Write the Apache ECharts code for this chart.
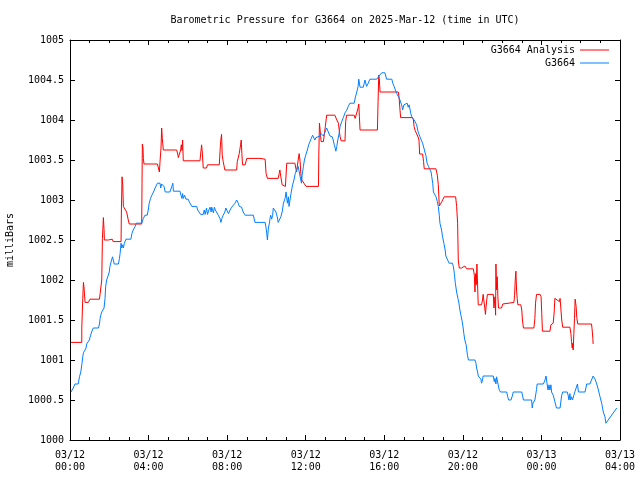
<!DOCTYPE html>
<html>
<head>
<meta charset="utf-8">
<script src="https://cdn.jsdelivr.net/npm/echarts@6/dist/echarts.min.js"></script>
<style>html,body{margin:0;padding:0;background:#fff}#chart{width:640px;height:480px}</style>
</head>
<body>
<div id="chart"></div>
<script>
// x values: minutes since 2025-03-12 00:00 UTC; y values: milliBars
var titleText = 'Barometric Pressure for G3664 on 2025-Mar-12 (time in UTC)';
var yAxisName = 'milliBars';
var seriesNames = ['G3664 Analysis', 'G3664'];
var xMin = 0, xMax = 1680, xStep = 240;
var yMin = 1000, yMax = 1005, yStep = 0.5;
var tickDates = ['03/12', '03/12', '03/12', '03/12', '03/12', '03/12', '03/13', '03/13'];
var tickTimes = ['00:00', '04:00', '08:00', '12:00', '16:00', '20:00', '00:00', '04:00'];

var analysisData = [[3,1001.22],[36,1001.22],[36,1001.40],[39,1001.77],[41,1001.97],[43,1001.90],[46,1001.72],[56,1001.72],[61,1001.76],[90,1001.76],[92,1001.74],[95,1001.74],[97,1002.0],[99,1002.52],[102,1002.78],[104,1002.63],[105,1002.50],[117,1002.50],[122,1002.52],[129,1002.51],[132,1002.48],[156,1002.48],[157,1002.875],[159,1003.29],[161,1003.19],[163,1002.92],[168,1002.92],[173,1002.85],[176,1002.85],[178,1002.75],[181,1002.70],[219,1002.70],[220,1003.21],[221,1003.70],[223,1003.65],[224,1003.52],[226,1003.45],[267,1003.45],[270,1003.40],[273,1003.35],[275,1003.48],[278,1003.65],[280,1003.90],[282,1003.77],[285,1003.625],[326,1003.625],[329,1003.575],[331,1003.53],[336,1003.53],[338,1003.625],[340,1003.69],[342,1003.62],[344,1003.75],[346,1003.49],[397,1003.49],[402,1003.69],[404,1003.60],[407,1003.40],[417,1003.40],[420,1003.44],[456,1003.44],[460,1003.73],[463,1003.82],[465,1003.56],[468,1003.48],[473,1003.375],[509,1003.375],[511,1003.48],[517,1003.58],[521,1003.69],[523,1003.75],[525,1003.58],[527,1003.44],[535,1003.44],[540,1003.52],[580,1003.52],[596,1003.51],[599,1003.33],[603,1003.27],[636,1003.27],[639,1003.33],[641,1003.375],[644,1003.29],[648,1003.19],[652,1003.17],[658,1003.17],[662,1003.46],[687,1003.46],[692,1003.35],[697,1003.50],[700,1003.58],[703,1003.48],[705,1003.33],[708,1003.25],[713,1003.25],[721,1003.17],[759,1003.17],[760,1003.56],[762,1003.96],[764,1003.875],[767,1003.73],[774,1003.73],[780,1003.92],[784,1004.06],[809,1004.06],[815,1004.0],[820,1003.96],[823,1003.85],[825,1003.79],[828,1003.74],[840,1003.74],[842,1003.98],[845,1004.06],[868,1004.06],[871,1004.02],[876,1004.02],[880,1004.15],[882,1004.20],[884,1004.04],[886,1003.875],[939,1003.875],[941,1004.23],[943,1004.56],[945,1004.50],[947,1004.35],[1003,1004.35],[1005,1004.29],[1008,1004.125],[1010,1004.03],[1046,1004.03],[1049,1004.0],[1051,1003.92],[1054,1003.87],[1059,1003.87],[1062,1003.80],[1066,1003.75],[1068,1003.575],[1077,1003.575],[1080,1003.48],[1082,1003.39],[1118,1003.39],[1122,1003.31],[1125,1003.19],[1128,1002.925],[1133,1002.925],[1136,1002.98],[1143,1003.04],[1178,1003.04],[1181,1002.92],[1184,1002.71],[1186,1002.25],[1189,1002.15],[1196,1002.15],[1201,1002.17],[1206,1002.175],[1212,1002.14],[1232,1002.14],[1235,1002.06],[1237,1001.85],[1239,1002.08],[1241,1001.94],[1243,1002.2],[1245,1001.94],[1247,1001.69],[1257,1001.69],[1260,1001.75],[1262,1001.82],[1264,1001.75],[1267,1001.65],[1269,1001.57],[1271,1001.67],[1273,1001.75],[1275,1001.82],[1293,1001.82],[1295,1001.65],[1298,1001.79],[1300,1001.56],[1301,1002.2],[1303,1001.875],[1305,1002.04],[1307,1001.79],[1309,1001.65],[1318,1001.65],[1322,1001.70],[1324,1001.72],[1356,1001.72],[1358,1001.81],[1360,1002.0],[1362,1002.11],[1364,1001.875],[1366,1001.77],[1368,1001.69],[1377,1001.69],[1380,1001.625],[1382,1001.5],[1385,1001.40],[1417,1001.40],[1420,1001.52],[1422,1001.71],[1425,1001.82],[1436,1001.82],[1439,1001.79],[1441,1001.58],[1443,1001.36],[1466,1001.36],[1469,1001.44],[1473,1001.46],[1476,1001.46],[1479,1001.60],[1481,1001.77],[1484,1001.76],[1488,1001.75],[1495,1001.73],[1497,1001.77],[1499,1001.77],[1502,1001.5],[1505,1001.41],[1527,1001.41],[1530,1001.33],[1532,1001.23],[1534,1001.15],[1536,1001.21],[1537,1001.125],[1539,1001.33],[1541,1001.52],[1543,1001.76],[1546,1001.67],[1548,1001.53],[1551,1001.45],[1593,1001.45],[1595,1001.375],[1597,1001.27],[1598,1001.20]];

var stationData = [[3,1000.60],[8,1000.60],[10,1000.65],[15,1000.70],[25,1000.70],[29,1000.79],[33,1000.85],[36,1000.94],[39,1001.04],[41,1001.09],[46,1001.09],[49,1001.15],[51,1001.20],[56,1001.20],[59,1001.25],[63,1001.31],[66,1001.35],[71,1001.40],[87,1001.40],[90,1001.45],[92,1001.52],[94,1001.56],[97,1001.60],[102,1001.60],[104,1001.65],[107,1001.77],[109,1001.92],[112,1002.0],[117,1002.0],[120,1002.10],[122,1002.17],[127,1002.25],[130,1002.29],[132,1002.29],[135,1002.20],[148,1002.20],[151,1002.27],[153,1002.33],[156,1002.46],[158,1002.40],[161,1002.44],[163,1002.40],[166,1002.46],[171,1002.51],[186,1002.51],[189,1002.58],[193,1002.625],[199,1002.67],[202,1002.71],[219,1002.71],[224,1002.77],[229,1002.81],[236,1002.81],[239,1002.875],[242,1002.96],[246,1003.02],[250,1003.06],[255,1003.10],[260,1003.15],[263,1003.17],[267,1003.21],[275,1003.21],[277,1003.15],[280,1003.20],[283,1003.21],[287,1003.17],[291,1003.10],[305,1003.10],[311,1003.17],[314,1003.21],[316,1003.11],[336,1003.11],[339,1003.06],[342,1003.02],[344,1003.08],[346,1003.02],[350,1003.06],[354,1003.01],[361,1003.01],[364,1002.98],[369,1002.96],[372,1002.92],[387,1002.92],[390,1002.875],[395,1002.875],[399,1002.82],[407,1002.82],[410,1002.875],[413,1002.82],[417,1002.90],[420,1002.82],[424,1002.875],[428,1002.91],[431,1002.85],[433,1002.91],[436,1002.91],[438,1002.84],[441,1002.91],[444,1002.875],[448,1002.85],[453,1002.81],[458,1002.77],[461,1002.72],[464,1002.77],[468,1002.81],[473,1002.85],[476,1002.90],[481,1002.875],[484,1002.83],[489,1002.875],[494,1002.91],[499,1002.91],[504,1002.96],[509,1003.0],[514,1002.96],[517,1002.92],[524,1002.91],[529,1002.85],[535,1002.81],[560,1002.81],[565,1002.72],[596,1002.72],[599,1002.65],[601,1002.58],[603,1002.50],[606,1002.65],[609,1002.71],[611,1002.77],[613,1002.81],[616,1002.76],[619,1002.81],[621,1002.90],[626,1002.90],[629,1002.85],[633,1002.79],[636,1002.72],[641,1002.72],[644,1002.79],[648,1002.85],[652,1002.96],[657,1003.02],[660,1003.10],[664,1002.96],[667,1003.04],[669,1002.92],[672,1003.0],[675,1003.08],[680,1003.19],[684,1003.25],[688,1003.33],[692,1003.375],[697,1003.42],[703,1003.29],[707,1003.21],[709,1003.31],[713,1003.42],[716,1003.50],[720,1003.56],[725,1003.625],[729,1003.69],[733,1003.73],[737,1003.77],[741,1003.81],[745,1003.79],[748,1003.75],[751,1003.78],[755,1003.80],[764,1003.80],[767,1003.83],[770,1003.83],[774,1003.80],[779,1003.85],[784,1003.90],[789,1003.85],[794,1003.80],[801,1003.79],[804,1003.75],[807,1003.69],[810,1003.65],[812,1003.61],[815,1003.67],[818,1003.75],[822,1003.83],[825,1003.92],[830,1003.98],[835,1004.03],[840,1004.09],[845,1004.12],[850,1004.17],[855,1004.21],[868,1004.21],[872,1004.29],[876,1004.35],[880,1004.42],[882,1004.51],[886,1004.41],[896,1004.41],[901,1004.50],[906,1004.42],[911,1004.46],[916,1004.51],[937,1004.51],[942,1004.54],[947,1004.54],[952,1004.59],[957,1004.60],[962,1004.59],[967,1004.51],[983,1004.51],[986,1004.46],[990,1004.42],[994,1004.40],[998,1004.33],[1003,1004.31],[1006,1004.27],[1010,1004.25],[1013,1004.19],[1016,1004.125],[1020,1004.19],[1023,1004.21],[1026,1004.17],[1030,1004.21],[1033,1004.16],[1036,1004.19],[1039,1004.125],[1041,1004.08],[1044,1004.04],[1047,1004.02],[1051,1004.0],[1055,1003.98],[1059,1003.94],[1062,1003.875],[1065,1003.83],[1069,1003.79],[1073,1003.75],[1077,1003.71],[1081,1003.65],[1084,1003.60],[1087,1003.56],[1089,1003.50],[1091,1003.46],[1095,1003.42],[1100,1003.40],[1103,1003.35],[1105,1003.29],[1108,1003.21],[1110,1003.10],[1115,1003.08],[1118,1003.04],[1122,1002.98],[1125,1002.92],[1128,1002.81],[1130,1002.71],[1135,1002.625],[1138,1002.54],[1142,1002.46],[1146,1002.375],[1148,1002.30],[1153,1002.29],[1158,1002.21],[1168,1002.21],[1171,1002.17],[1174,1002.08],[1177,1001.96],[1181,1001.85],[1185,1001.77],[1188,1001.71],[1191,1001.625],[1195,1001.54],[1198,1001.48],[1201,1001.40],[1203,1001.33],[1206,1001.25],[1210,1001.19],[1212,1001.125],[1214,1001.06],[1217,1001.0],[1237,1001.0],[1240,1000.96],[1242,1000.90],[1245,1000.85],[1247,1000.80],[1252,1000.80],[1255,1000.76],[1257,1000.71],[1260,1000.75],[1262,1000.80],[1293,1000.80],[1296,1000.73],[1298,1000.77],[1301,1000.70],[1303,1000.79],[1305,1000.75],[1308,1000.69],[1311,1000.63],[1315,1000.60],[1334,1000.60],[1337,1000.54],[1340,1000.50],[1347,1000.50],[1351,1000.55],[1354,1000.60],[1380,1000.60],[1383,1000.54],[1385,1000.50],[1410,1000.50],[1412,1000.40],[1414,1000.46],[1416,1000.48],[1420,1000.50],[1423,1000.58],[1425,1000.63],[1427,1000.70],[1446,1000.70],[1451,1000.75],[1454,1000.80],[1457,1000.71],[1460,1000.625],[1463,1000.69],[1466,1000.625],[1469,1000.69],[1471,1000.60],[1476,1000.56],[1481,1000.48],[1486,1000.40],[1497,1000.40],[1500,1000.50],[1502,1000.56],[1505,1000.60],[1519,1000.60],[1522,1000.55],[1524,1000.50],[1527,1000.58],[1529,1000.50],[1532,1000.54],[1535,1000.50],[1539,1000.56],[1542,1000.60],[1546,1000.65],[1550,1000.70],[1553,1000.60],[1573,1000.60],[1576,1000.65],[1578,1000.70],[1588,1000.70],[1593,1000.75],[1598,1000.80],[1604,1000.76],[1609,1000.70],[1614,1000.625],[1619,1000.54],[1624,1000.46],[1629,1000.35],[1634,1000.29],[1637,1000.21],[1641,1000.23],[1670,1000.40]];

var FONT = 'DejaVu Sans Mono';
var chart = echarts.init(document.getElementById('chart'), null, {renderer: 'canvas'});

function xAxisCfg(pos, showLabels) {
  return {
    type: 'value', position: pos, min: xMin, max: xMax, interval: xStep,
    axisLine: {show: true, onZero: false, lineStyle: {color: '#000', width: 1}},
    axisTick: {show: true, inside: true, length: 5, lineStyle: {color: '#000'}},
    minorTick: {show: true, splitNumber: 4, length: 3, lineStyle: {color: '#000'}},
    splitLine: {show: false},
    axisLabel: {
      show: showLabels, margin: 9, fontFamily: FONT, fontSize: 10, color: '#000', lineHeight: 12,
      formatter: function (v) {
        var i = Math.round((v - xMin) / xStep);
        return tickDates[i] + '\n' + tickTimes[i];
      }
    }
  };
}
function yAxisCfg(pos, showLabels) {
  return {
    type: 'value', position: pos, min: yMin, max: yMax, interval: yStep,
    name: showLabels ? yAxisName : '', nameLocation: 'middle', nameRotate: 90, nameGap: 55,
    nameTextStyle: {fontFamily: FONT, fontSize: 10, color: '#000'},
    axisLine: {show: true, onZero: false, lineStyle: {color: '#000', width: 1}},
    axisTick: {show: true, inside: true, length: 5, lineStyle: {color: '#000'}},
    splitLine: {show: false},
    axisLabel: {show: showLabels, margin: 6, fontFamily: FONT, fontSize: 10, color: '#000',
      formatter: function (v) { return String(Math.round(v * 10) / 10); }}
  };
}

var legendCommon = {
  right: 31, padding: 0, align: 'right', orient: 'vertical', icon: 'rect', itemWidth: 29, itemHeight: 1,
  textStyle: {fontFamily: FONT, fontSize: 10, color: '#000'}, selectedMode: false
};

var option = {
  animation: false,
  backgroundColor: '#fff',
  textStyle: {fontFamily: FONT},
  grid: {left: 70, right: 20, top: 40, bottom: 40, containLabel: false, outerBoundsMode: 'none'},
  graphic: [{
    type: 'text', x: 345, y: 15,
    style: {text: titleText, fontFamily: FONT, fontSize: 10, fill: '#000', textAlign: 'center', textVerticalAlign: 'top'}
  }],
  legend: [
    Object.assign({data: [seriesNames[0]], top: 45}, legendCommon),
    Object.assign({data: [seriesNames[1]], top: 58}, legendCommon)
  ],
  xAxis: [xAxisCfg('bottom', true), xAxisCfg('top', false)],
  yAxis: [yAxisCfg('left', true), yAxisCfg('right', false)],
  series: [
    {name: seriesNames[0], type: 'line', data: analysisData, xAxisIndex: 0, yAxisIndex: 0,
     symbol: 'none', showSymbol: false, lineStyle: {color: '#ff0000', width: 1}, itemStyle: {color: '#ff0000'}},
    {name: seriesNames[1], type: 'line', data: stationData, xAxisIndex: 0, yAxisIndex: 0,
     symbol: 'none', showSymbol: false, lineStyle: {color: '#0080ff', width: 1}, itemStyle: {color: '#0080ff'}}
  ]
};
chart.setOption(option);
</script>
</body>
</html>
